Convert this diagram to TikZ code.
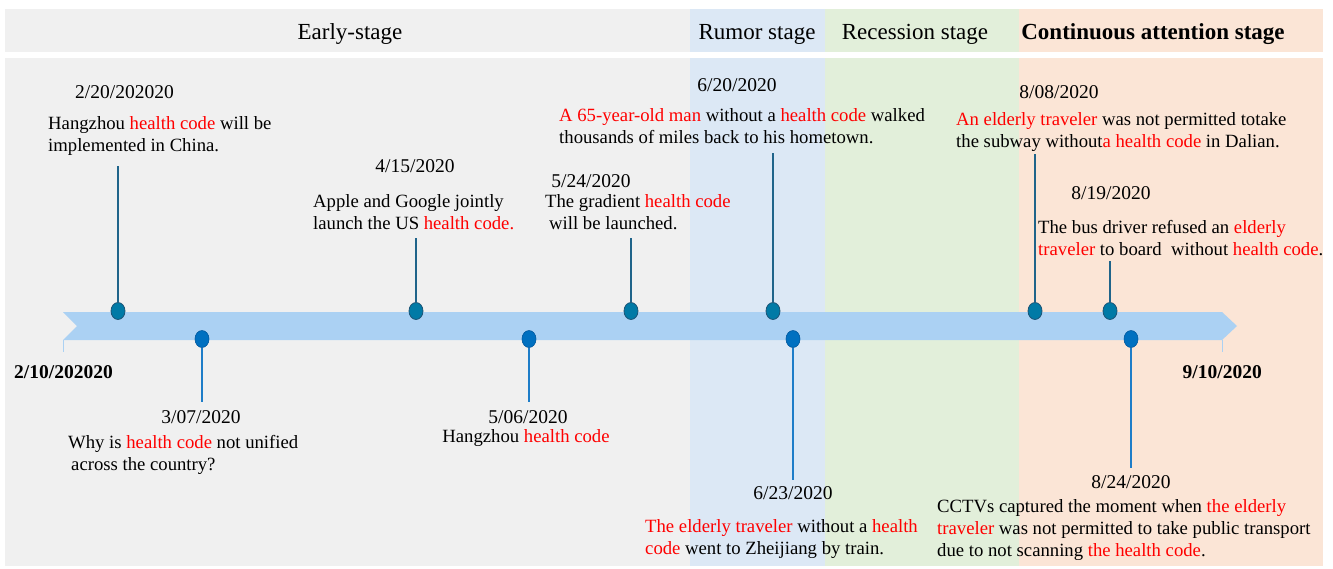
\documentclass[tikz,border=0pt]{standalone}
\usepackage{fontspec}
\setmainfont{Liberation Serif}
\usepackage{xcolor}
\usetikzlibrary{shapes.geometric}

\definecolor{earlybg}{RGB}{240,240,240}
\definecolor{rumorbg}{RGB}{220,232,245}
\definecolor{recessbg}{RGB}{226,239,218}
\definecolor{contbg}{RGB}{251,229,214}
\definecolor{bandblue}{RGB}{171,209,243}
\definecolor{updotfill}{RGB}{0,122,166}
\definecolor{updotedge}{RGB}{28,84,118}
\definecolor{downdotfill}{RGB}{0,112,192}
\definecolor{downdotedge}{RGB}{0,88,158}
\definecolor{upstemcol}{RGB}{31,100,138}
\definecolor{downstemcol}{RGB}{30,125,200}
\definecolor{hcred}{RGB}{255,0,0}

\newcommand{\hcode}[1]{\textcolor{hcred}{#1}}

\begin{document}
\begin{tikzpicture}[x=1pt, y=-1pt,
  body/.style={font=\fontsize{18.7}{22}\selectfont, inner sep=0pt},
  event/.style={body, align=left, anchor=north west},
  datelbl/.style={font=\fontsize{19.5}{23}\selectfont, inner sep=0pt},
  enddate/.style={font=\fontsize{19.5}{23}\selectfont\bfseries, inner sep=0pt},
  stagelbl/.style={font=\fontsize{23}{27}\selectfont, inner sep=0pt},
  updot/.style={ellipse, draw=updotedge, fill=updotfill, line width=0.8pt,
    minimum width=14pt, minimum height=17pt, inner sep=0pt},
  downdot/.style={ellipse, draw=downdotedge, fill=downdotfill, line width=0.6pt,
    minimum width=14pt, minimum height=17pt, inner sep=0pt},
  upstem/.style={draw=upstemcol, line width=1.3pt},
  downstem/.style={draw=downstemcol, line width=1.3pt}]
  \useasboundingbox (0,0) rectangle (1333,568);

  % stage backgrounds
  \fill[earlybg] (5,9) rectangle (690,52);
  \fill[rumorbg] (690,9) rectangle (825,52);
  \fill[recessbg] (825,9) rectangle (1019,52);
  \fill[contbg] (1019,9) rectangle (1323,52);
  \fill[earlybg] (5,58) rectangle (690,566);
  \fill[rumorbg] (690,58) rectangle (825,566);
  \fill[recessbg] (825,58) rectangle (1019,566);
  \fill[contbg] (1019,58) rectangle (1323,566);

  \node[stagelbl] (early) at (350,34) {Early-stage};
  \node[stagelbl] (rumor) at (757,34) {Rumor stage};
  \node[stagelbl] (recess) at (915,34) {Recession stage};
  \node[stagelbl, font=\fontsize{23}{27}\selectfont\bfseries] (cont) at (1153,34) {Continuous attention stage};

  % timeline band
  \fill[bandblue] (63,312) -- (1222,312) -- (1237,326) -- (1222,340) -- (63,340) -- (77,326) -- cycle;
  \draw[bandblue, line width=1pt] (63,340) -- (63,352);
  \draw[bandblue, line width=1pt] (1222,340) -- (1222,352);

  \node[enddate, anchor=west] (start) at (14,372) {2/10/202020};
  \node[enddate, anchor=east] (end) at (1262,372) {9/10/2020};

  % events above the band
  \node[updot] (u1) at (118,311) {};
  \node[updot] (u2) at (416,311) {};
  \node[updot] (u3) at (631,311) {};
  \node[updot] (u4) at (773,311) {};
  \node[updot] (u5) at (1035,311) {};
  \node[updot] (u6) at (1110,311) {};
  \coordinate (ut1) at (118,166);
  \coordinate (ut2) at (416,238);
  \coordinate (ut3) at (631,238);
  \coordinate (ut4) at (773,153);
  \coordinate (ut5) at (1035,154);
  \coordinate (ut6) at (1110,261);
  \draw[upstem] (u1.north) -- (ut1);
  \draw[upstem] (u2.north) -- (ut2);
  \draw[upstem] (u3.north) -- (ut3);
  \draw[upstem] (u4.north) -- (ut4);
  \draw[upstem] (u5.north) -- (ut5);
  \draw[upstem] (u6.north) -- (ut6);

  \node[datelbl] (ud1) at (124.5,92) {2/20/202020};
  \node[event] (ue1) at (48,116) {Hangzhou \hcode{health code} will be\\implemented in China.};
  \node[datelbl] (ud2) at (415,166) {4/15/2020};
  \node[event] (ue2) at (313,194) {Apple and Google jointly\\launch the US \hcode{health code.}};
  \node[datelbl] (ud3) at (591,181) {5/24/2020};
  \node[event] (ue3) at (545,194) {The gradient \hcode{health code}\\\hspace{4pt}will be launched.};
  \node[datelbl] (ud4) at (737,85) {6/20/2020};
  \node[event] (ue4) at (559,108) {\hcode{A 65-year-old man} without a \hcode{health code} walked\\thousands of miles back to his hometown.};
  \node[datelbl] (ud5) at (1059,92) {8/08/2020};
  \node[event] (ue5) at (956,112) {\hcode{An elderly traveler} was not permitted totake\\the subway without\hcode{a health code} in Dalian.};
  \node[datelbl] (ud6) at (1111,193) {8/19/2020};
  \node[event] (ue6) at (1038,220) {The bus driver refused an \hcode{elderly}\\\hcode{traveler} to board\ \ without \hcode{health code}.};

  % events below the band
  \node[downdot] (l1) at (202,339) {};
  \node[downdot] (l2) at (529,339) {};
  \node[downdot] (l3) at (793,339) {};
  \node[downdot] (l4) at (1131,339) {};
  \coordinate (lb1) at (202,402);
  \coordinate (lb2) at (529,402);
  \coordinate (lb3) at (793,480);
  \coordinate (lb4) at (1131,468);
  \draw[downstem] (l1.south) -- (lb1);
  \draw[downstem] (l2.south) -- (lb2);
  \draw[downstem] (l3.south) -- (lb3);
  \draw[downstem] (l4.south) -- (lb4);

  \node[datelbl] (ld1) at (201,417) {3/07/2020};
  \node[event] (le1) at (68,435) {Why is \hcode{health code} not unified\\\hspace{3pt}across the country?};
  \node[datelbl] (ld2) at (528,417) {5/06/2020};
  \node[body] (le2) at (526,438) {Hangzhou \hcode{health code}};
  \node[datelbl] (ld3) at (793,493) {6/23/2020};
  \node[event] (le3) at (645,519) {\hcode{The elderly traveler} without a \hcode{health}\\\hcode{code} went to Zheijiang by train.};
  \node[datelbl] (ld4) at (1131,482) {8/24/2020};
  \node[event] (le4) at (937,499) {CCTVs captured the moment when \hcode{the elderly}\\\hcode{traveler} was not permitted to take public transport\\due to not scanning \hcode{the health code}.};
\end{tikzpicture}
\end{document}
